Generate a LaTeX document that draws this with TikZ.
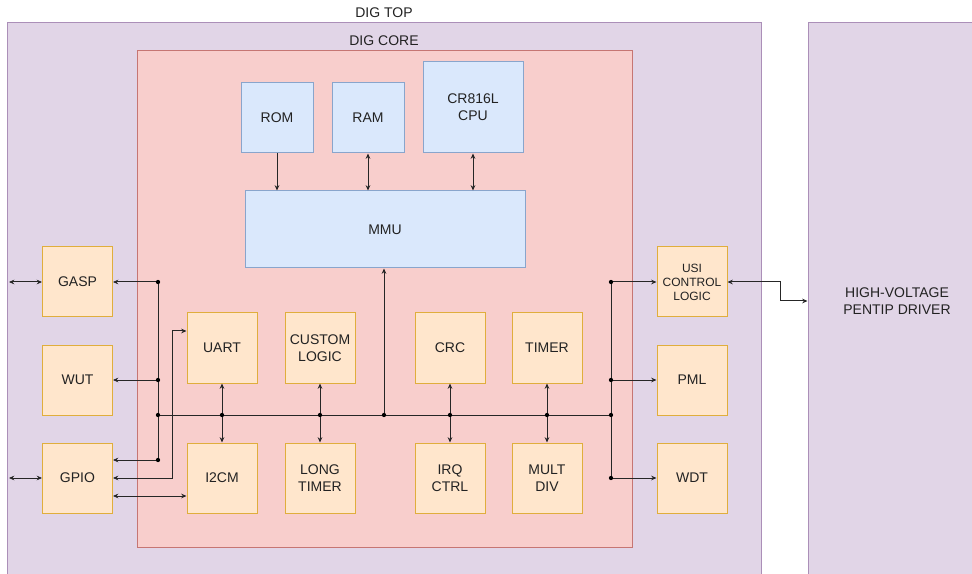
\documentclass[tikz,border=0pt]{standalone}
\usepackage{fontspec}
\setmainfont{Liberation Sans}
\usetikzlibrary{arrows.meta,calc}
\definecolor{pfill}{HTML}{E1D5E7}
\definecolor{pline}{HTML}{9673A6}
\definecolor{rfill}{HTML}{F8CECC}
\definecolor{rline}{HTML}{B85450}
\definecolor{bfill}{HTML}{DAE8FC}
\definecolor{bline}{HTML}{6C8EBF}
\definecolor{ofill}{HTML}{FFE6CC}
\definecolor{oline}{HTML}{E0AE3C}
\definecolor{txt}{HTML}{222222}
\tikzset{
  base/.style={draw, rectangle, inner sep=0pt, align=center, text=txt,
    font=\fontsize{10.5}{12.8}\selectfont, line width=0.75pt},
  pbox/.style={base, fill=pfill, draw=pline!80},
  rbox/.style={base, fill=rfill, draw=rline!80},
  bbox/.style={base, fill=bfill, draw=bline!80},
  obox/.style={base, fill=ofill, draw=oline, minimum width=52.5pt, minimum height=52.5pt},
  wire/.style={draw=black!85, line width=0.75pt},
  arr/.style={wire, -{Stealth[length=4pt,width=3.5pt]}},
  dbl/.style={wire, {Stealth[length=4pt,width=3.5pt]}-{Stealth[length=4pt,width=3.5pt]}},
  lbl/.style={text=txt, font=\fontsize{10.5}{12.8}\selectfont, inner sep=0pt},
  dot/.style={fill=black, circle, inner sep=0pt, minimum size=3.2pt}
}
\begin{document}
\begin{tikzpicture}[x=0.75pt,y=-0.75pt]
\useasboundingbox (0,0) rectangle (972,574);
\clip (0,0) rectangle (972,574);
\fill[white] (0,0) rectangle (972,574);

% outer containers
\node[pbox, minimum width=565.5pt, minimum height=423pt] (DT) at (384,305) {};
\node[lbl] (DTl) at (384,13) {DIG TOP};
\node[pbox, minimum width=133.5pt, minimum height=417pt] (HV) at (897,301) {HIGH-VOLTAGE\\PENTIP DRIVER};
\node[rbox, minimum width=371.25pt, minimum height=372pt] (CORE) at (384.5,299) {};
\node[lbl] (COREl) at (384,41) {DIG CORE};

% memory / cpu
\node[bbox, minimum width=54pt, minimum height=52.5pt] (ROM) at (277,118) {ROM};
\node[bbox, minimum width=54pt, minimum height=52.5pt] (RAM) at (368,118) {RAM};
\node[bbox, minimum width=75pt, minimum height=68.25pt] (CPU) at (473,107.5) {CR816L\\CPU};
\node[bbox, minimum width=210pt, minimum height=57.75pt] (MMU) at (385,229.5) {MMU};

% left peripherals
\node[obox] (GASP) at (77.5,282) {GASP};
\node[obox] (WUT) at (77.5,380) {WUT};
\node[obox] (GPIO) at (77.5,478) {GPIO};

% core peripherals
\node[obox] (UART) at (222,348) {UART};
\node[obox] (I2CM) at (222,478) {I2CM};
\node[obox] (CUST) at (320,348) {CUSTOM\\LOGIC};
\node[obox] (LONG) at (320,478) {LONG\\TIMER};
\node[obox] (CRC) at (450,348) {CRC};
\node[obox] (IRQ) at (450,478) {IRQ\\CTRL};
\node[obox] (TIMER) at (547,348) {TIMER};
\node[obox] (MULT) at (547,478) {MULT\\DIV};

% right peripherals
\node[obox, font=\fontsize{9}{10.5}\selectfont] (USI) at (692,282) {USI\\CONTROL\\LOGIC};
\node[obox] (PML) at (692,380) {PML};
\node[obox] (WDT) at (692,478) {WDT};

% junctions and free ends
\coordinate (jGASP) at (158,282);
\coordinate (jWUT) at (158,380);
\coordinate (jBusL) at (158,415);
\coordinate (jGPIO) at (158,460);
\coordinate (jUART) at (222,415);
\coordinate (jCUST) at (320,415);
\coordinate (jBusC) at (384,415);
\coordinate (jCRC) at (450,415);
\coordinate (jTIMER) at (547,415);
\coordinate (jBusR) at (611,415);
\coordinate (jUSI) at (611,282);
\coordinate (jPML) at (611,380);
\coordinate (jWDT) at (611,478);
\coordinate (gaspL) at (9,282);
\coordinate (gpioL) at (9,478);
\coordinate (bendU1) at (172,478);
\coordinate (bendH) at (780,282);

% memory connections
\draw[arr] (ROM.south) -- (ROM.south |- MMU.north);
\draw[dbl] (RAM.south) -- (RAM.south |- MMU.north);
\draw[dbl] (CPU.south) -- (CPU.south |- MMU.north);
\draw[arr] (jBusC) -- (jBusC |- MMU.south);

% bus
\draw[wire] (jBusL) -- (jBusR);
\draw[wire] (jGASP) -- (jGPIO);
\draw[wire] (jUSI) -- (jWDT);

% left
\draw[dbl] (gaspL) -- (GASP.west);
\draw[dbl] (gpioL) -- (GPIO.west);
\draw[arr] (jGASP) -- (GASP.east);
\draw[arr] (jWUT) -- (WUT.east);
\draw[arr] (jGPIO) -- ([yshift=13.5pt]GPIO.east);
\draw[dbl] (GPIO.east) -- (bendU1) |- ([yshift=12.75pt]UART.west);
\draw[dbl] ([yshift=-13.5pt]GPIO.east) -- ([yshift=-13.5pt]I2CM.west);

% vertical pairs
\draw[dbl] (UART) -- (I2CM);
\draw[dbl] (CUST) -- (LONG);
\draw[dbl] (CRC) -- (IRQ);
\draw[dbl] (TIMER) -- (MULT);

% right
\draw[arr] (jUSI) -- (USI.west);
\draw[arr] (jPML) -- (PML.west);
\draw[arr] (jWDT) -- (WDT.west);
\draw[dbl] (USI.east) -- (bendH) |- (HV.west);

% dots
\foreach \j in {jGASP,jWUT,jBusL,jGPIO,jUART,jCUST,jBusC,jCRC,jTIMER,jBusR,jUSI,jPML,jWDT}
  \node[dot] at (\j) {};
\end{tikzpicture}
\end{document}
